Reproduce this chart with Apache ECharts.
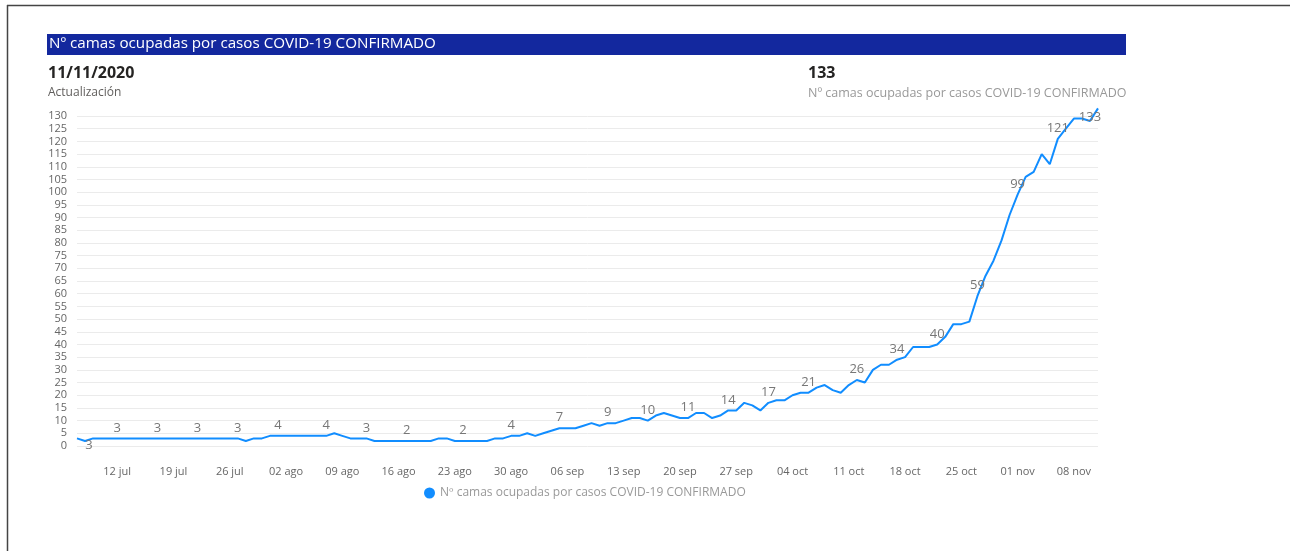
<!DOCTYPE html>
<html>
<head>
<meta charset="utf-8">
<script src="https://cdn.jsdelivr.net/npm/echarts@6/dist/echarts.min.js"></script>
<style>
html,body{margin:0;padding:0;background:#fff;}
#chart{width:1290px;height:551px;}
</style>
</head>
<body>
<div id="chart"></div>
<script>
// ---- DATA ----
const seriesName = 'Nº camas ocupadas por casos COVID-19 CONFIRMADO';
const startDate = '2020-07-07';
const monthNames = ['ene','feb','mar','abr','may','jun','jul','ago','sep','oct','nov','dic'];
// daily values, 07 jul 2020 .. 11 nov 2020
const camas = [
  3,2,3,3,3,3,3,3,3,3, 3,3,3,3,3,3,3,3,3,3,
  3,2,3,3,4,4,4,4,4,4, 4,4,5,4,3,3,3,2,2,2,
  2,2,2,2,2,3,3,2,2,2, 2,2,3,3,4,4,5,4,5,6,
  7,7,7,8,9,8,9,9,10,11, 11,10,12,13,12,11,11,13,13,11,
  12,14,14,17,16,14,17,18,18,20, 21,21,23,24,22,21,24,26,25,30,
  32,32,34,35,39,39,39,40,43,48, 48,49,59,67,73,81,91,99,106,108,
  115,111,121,125,129,129,128,133
];
// indices of points that carry a data label
const labelIdx = [2,5,10,15,20,25,31,36,41,48,54,60,66,71,76,81,86,91,97,102,107,112,117,122,127];
const headerDate = '11/11/2020';
const headerDateSub = 'Actualización';
const kpiValue = '133';

// categories (dates)
const categories = [];
(function(){
  const d0 = new Date(startDate + 'T00:00:00Z');
  for (let i = 0; i < camas.length; i++) {
    const d = new Date(d0.getTime() + i * 86400000);
    const dd = String(d.getUTCDate()).padStart(2,'0');
    categories.push(dd + ' ' + monthNames[d.getUTCMonth()]);
  }
})();

const FONT = '"Open Sans", "Noto Sans", sans-serif';

const seriesData = camas.map((v, i) => {
  const item = { value: v };
  if (labelIdx.indexOf(i) >= 0) {
    let lbl = { show: true, position: 'top', distance: 4 };
    if (i === labelIdx[0]) lbl = { show: true, position: 'bottom', distance: 0, offset: [-4, 0] };
    if (i === camas.length - 1) lbl = { show: true, position: 'bottom', distance: 2, offset: [-8, 0] };
    item.label = lbl;
  }
  return item;
});

const chart = echarts.init(document.getElementById('chart'), null, { renderer: 'canvas' });
chart.setOption({
  animation: false,
  backgroundColor: '#ffffff',
  textStyle: { fontFamily: FONT },
  grid: { left: 77, right: 192, top: 116, bottom: 105, containLabel: false },
  legend: {
    data: [seriesName],
    icon: 'circle',
    itemWidth: 11, itemHeight: 11,
    left: 419, top: 482,
    textStyle: { color: '#999999', fontSize: 12, fontFamily: FONT }
  },
  xAxis: {
    type: 'category',
    data: categories,
    boundaryGap: false,
    axisLine: { show: false },
    axisTick: { show: false },
    axisLabel: {
      interval: function (index) { return index >= 5 && (index - 5) % 7 === 0; },
      color: '#666666', fontSize: 11, fontFamily: FONT, margin: 20
    },
    splitLine: { show: false }
  },
  yAxis: {
    type: 'value',
    min: 0, max: 130, interval: 5,
    axisLine: { show: false },
    axisTick: { show: false },
    axisLabel: { color: '#666666', fontSize: 11, fontFamily: FONT, margin: 10 },
    splitLine: { lineStyle: { color: '#ebebeb', width: 1 } }
  },
  series: [{
    name: seriesName,
    type: 'line',
    data: seriesData,
    clip: false,
    showSymbol: true,
    showAllSymbol: true,
    symbol: 'circle',
    symbolSize: 0.1,
    itemStyle: { color: '#118DFF' },
    lineStyle: { color: '#118DFF', width: 2 },
    label: { show: false, color: '#777777', fontSize: 13, fontFamily: FONT },
    emphasis: { disabled: true }
  }],
  graphic: [
    { type: 'line', shape: { x1: 7, y1: 5.5, x2: 1290, y2: 5.5 }, style: { stroke: '#444', lineWidth: 1.5 } },
    { type: 'line', shape: { x1: 7.5, y1: 5, x2: 7.5, y2: 551 }, style: { stroke: '#444', lineWidth: 1.5 } },
    { type: 'rect', shape: { x: 47, y: 34, width: 1079, height: 21 }, style: { fill: '#13289E' } },
    { type: 'text', left: 49, top: 36, style: { text: seriesName, fill: '#ffffff', font: '15.2px ' + FONT } },
    { type: 'text', left: 48, top: 65, style: { text: headerDate, fill: '#252423', font: 'bold 16px ' + FONT } },
    { type: 'text', left: 48, top: 87, style: { text: headerDateSub, fill: '#605E5C', font: '12px ' + FONT } },
    { type: 'text', left: 808, top: 65, style: { text: kpiValue, fill: '#252423', font: 'bold 16px ' + FONT } },
    { type: 'text', left: 808, top: 87, style: { text: seriesName, fill: '#999999', font: '12.5px ' + FONT } }
  ]
});
</script>
</body>
</html>
